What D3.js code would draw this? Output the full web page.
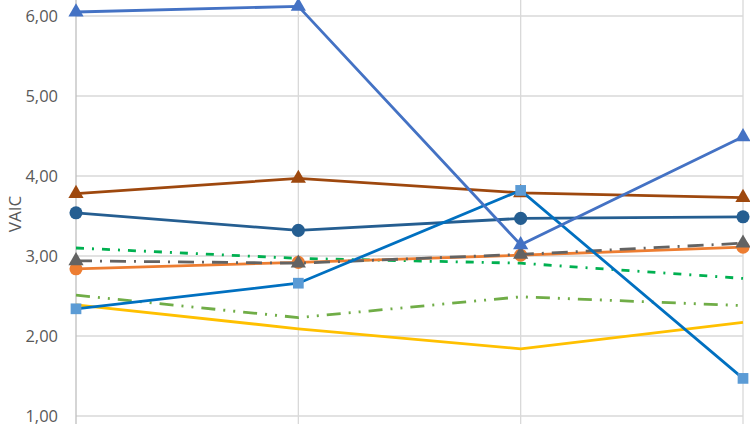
<!DOCTYPE html>
<html>
<head>
<meta charset="utf-8">
<script src="https://cdn.jsdelivr.net/npm/d3@7"></script>
<style>
  body { margin: 0; background: #fff; }
  svg text { font-family: "Open Sans", "Noto Sans", sans-serif; fill: #595959; }
</style>
</head>
<body>
<div id="chart"></div>
<script>
// categories (x labels are cut off in the reference)
const categories = ["P1", "P2", "P3", "P4"];
const yTicks = [1, 2, 3, 4, 5, 6];

const s1 = [6.05, 6.12, 3.14, 4.49];   // blue triangles
const s2 = [3.78, 3.97, 3.79, 3.73];   // brown triangles
const s3 = [3.54, 3.32, 3.47, 3.49];   // dark blue circles
const s4 = [3.10, 2.97, 2.91, 2.72];   // green dash-dot
const s5 = [2.94, 2.91, 3.02, 3.16];   // gray long dash-dot, triangles
const s6 = [2.84, 2.92, 3.01, 3.11];   // orange circles
const s7 = [2.34, 2.66, 3.82, 1.47];   // blue, squares
const s8 = [2.51, 2.23, 2.49, 2.38];   // light green long dash dot dot
const s9 = [2.39, 2.09, 1.84, 2.17];   // yellow

const series = [
    {values: s8, color: "#70AD47", dash: "14 8 2 8 2 8", marker: null},
    {values: s9, color: "#FFC000", dash: null, marker: null},
    {values: s4, color: "#00B050", dash: "8 8 2 8", marker: null},
    {values: s6, color: "#ED7D31", dash: null, marker: "circle", mcolor: "#ED7D31"},
    {values: s5, color: "#636363", dash: "16 8 2 8", marker: "triangle", mcolor: "#636363"},
    {values: s3, color: "#255E91", dash: null, marker: "circle", mcolor: "#255E91"},
    {values: s2, color: "#9E480E", dash: null, marker: "triangle", mcolor: "#9E480E"},
    {values: s7, color: "#0070C0", dash: null, marker: "square", mcolor: "#5B9BD5"},
    {values: s1, color: "#4472C4", dash: null, marker: "triangle", mcolor: "#4472C4"}
];

const width = 750, height = 424;
const svg = d3.select("#chart").append("svg")
    .attr("width", width)
    .attr("height", height);

const xScale = d3.scalePoint()
    .domain(categories)
    .range([76, 743]);

const yScale = d3.scaleLinear()
    .domain([1, 6])
    .range([416, 16]);

// horizontal gridlines
svg.append("g")
    .selectAll("line")
    .data(yTicks)
    .enter()
    .append("line")
    .attr("x1", 76)
    .attr("x2", 743)
    .attr("y1", d => yScale(d))
    .attr("y2", d => yScale(d))
    .attr("stroke", "#d9d9d9")
    .attr("stroke-width", 1.3);

// vertical gridlines
svg.append("g")
    .selectAll("line")
    .data(categories)
    .enter()
    .append("line")
    .attr("x1", d => xScale(d))
    .attr("x2", d => xScale(d))
    .attr("y1", 0)
    .attr("y2", height)
    .attr("stroke", (d, i) => i === 0 ? "#bfbfbf" : "#d9d9d9")
    .attr("stroke-width", 1.3);

// y tick labels
const yAxis = svg.append("g")
    .attr("transform", "translate(76,0)")
    .call(d3.axisLeft(yScale).tickValues(yTicks).tickSize(0).tickPadding(18)
        .tickFormat(d => d3.format(".2f")(d).replace(".", ",")));
yAxis.select(".domain").remove();
yAxis.selectAll("text")
    .style("font-size", "16.5px")
    .attr("fill", "#595959");

svg.append("text")
    .attr("transform", "translate(15,214) rotate(-90)")
    .attr("text-anchor", "middle")
    .attr("dy", "0.35em")
    .style("font-size", "17px")
    .text("VAIC");

const line = d3.line()
    .x((d, i) => xScale(categories[i]))
    .y(d => yScale(d));

series.forEach(s => {
    svg.append("path")
        .datum(s.values)
        .attr("fill", "none")
        .attr("stroke", s.color)
        .attr("stroke-width", 2.8)
        .attr("stroke-dasharray", s.dash)
        .attr("d", line);

    if (s.marker) {
        const symType = s.marker === "circle" ? d3.symbolCircle
            : s.marker === "square" ? d3.symbolSquare : d3.symbolTriangle;
        const size = s.marker === "circle" ? 135 : s.marker === "square" ? 115 : 100;
        svg.append("g")
            .selectAll("path")
            .data(s.values)
            .enter()
            .append("path")
            .attr("transform", (d, i) => `translate(${xScale(categories[i])},${yScale(d)})`)
            .attr("d", d3.symbol().type(symType).size(size))
            .attr("fill", s.mcolor);
    }
});
</script>
</body>
</html>
